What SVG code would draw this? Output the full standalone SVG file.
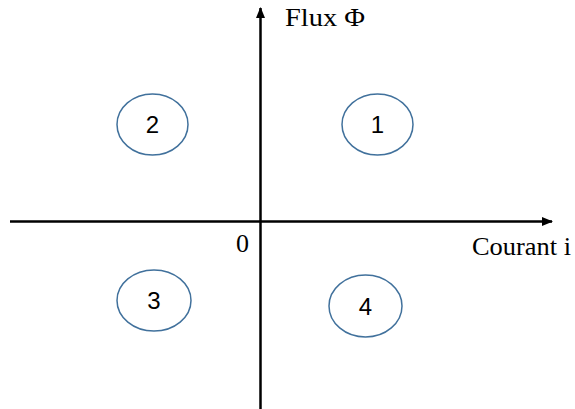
<svg xmlns="http://www.w3.org/2000/svg" width="575" height="409" viewBox="0 0 575 409">
<style>
.ax{stroke:#000;stroke-width:2.5;fill:none}
.q ellipse{fill:#fff;stroke:#41719C;stroke-width:1.5}
.q text{font-family:"Liberation Sans","Open Sans",sans-serif;font-size:24px;fill:#000;text-anchor:middle}
.lbl{font-family:"Liberation Serif","DejaVu Serif",serif;font-size:26px;fill:#000}
</style>
<defs>
<marker id="ah" markerUnits="userSpaceOnUse" markerWidth="11" markerHeight="9" refX="10" refY="4.5" orient="auto">
<path d="M0,0 L11,4.5 L0,9 Z" fill="#000"/>
</marker>
</defs>
<rect width="575" height="409" fill="#fff"/>
<g id="connectors">
<line class="ax" x1="10" y1="221.5" x2="552" y2="221.5" marker-end="url(#ah)"/>
<line class="ax" x1="260.5" y1="409" x2="260.5" y2="8" marker-end="url(#ah)"/>
</g>
<g id="axis-labels">
<text class="lbl" x="285" y="26" textLength="80" lengthAdjust="spacingAndGlyphs">Flux Φ</text>
<text class="lbl" x="472" y="255" textLength="99" lengthAdjust="spacingAndGlyphs">Courant i</text>
<text class="lbl" x="236" y="252">0</text>
</g>
<g id="q1" class="q"><ellipse cx="377.5" cy="124.5" rx="35.5" ry="30.5"/><text x="377.5" y="133">1</text></g>
<g id="q2" class="q"><ellipse cx="152.5" cy="124.5" rx="35.5" ry="30.5"/><text x="152.5" y="133">2</text></g>
<g id="q3" class="q"><ellipse cx="154" cy="300.5" rx="37" ry="30.5"/><text x="154" y="309">3</text></g>
<g id="q4" class="q"><ellipse cx="365.5" cy="306" rx="36.5" ry="31"/><text x="365.5" y="314.5">4</text></g>
</svg>
